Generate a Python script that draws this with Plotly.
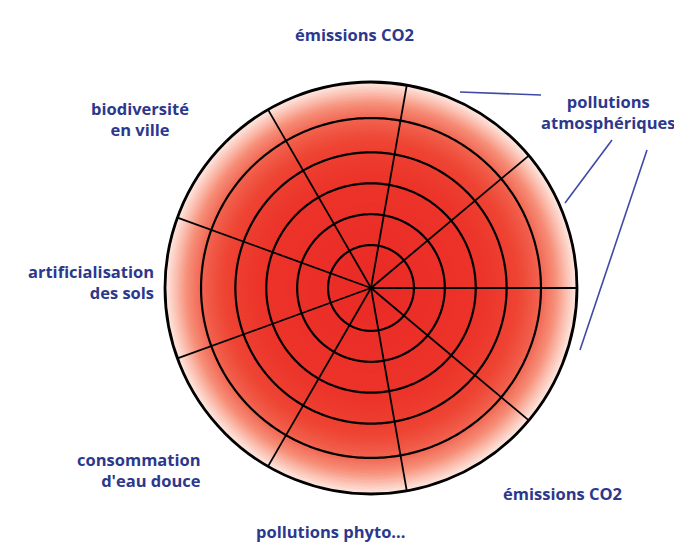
import numpy as np
import plotly.graph_objects as go

# ---- data ----
spoke_angles = [0, 40, 80, 120, 160, 200, 240, 280, 320]      # degrees
ring_radii = [1.25, 2.15, 3.05, 3.95, 4.95]                    # inner rings
outer_radius = 6.0
labels = ["émissions CO2", "biodiversité<br>en ville", "pollutions<br>atmosphériques",
          "artificialisation<br>des sols", "consommation<br>d'eau douce",
          "émissions CO2", "pollutions phyto..."]

W, H = 682, 548
CX, CY, R = 363, 280, 206
TXT = "rgb(44,56,140)"
LINE_BLUE = "rgb(62,74,164)"

fig = go.Figure()

# radial gradient fill: overlapping discs, largest first
stops_r = [0.0, 0.55, 0.72, 0.82, 0.90, 0.96, 1.0]
stops_c = [(234, 42, 38), (236, 52, 42), (238, 68, 52), (241, 96, 76),
           (246, 142, 120), (251, 196, 182), (254, 230, 222)]
n = 90
rs = np.linspace(outer_radius, outer_radius / n, n)
cols = []
for r in rs:
    f = r / outer_radius
    c = [np.interp(f, stops_r, [s[i] for s in stops_c]) for i in range(3)]
    cols.append("rgb(%d,%d,%d)" % tuple(int(round(v)) for v in c))
fig.add_trace(go.Barpolar(r=list(rs), theta=[0] * n, width=[360] * n, base=[0] * n,
                          marker=dict(color=cols, line=dict(width=0)),
                          hoverinfo="skip", showlegend=False))

# rings
th = np.linspace(0, 360, 361)
for rr in ring_radii:
    fig.add_trace(go.Scatterpolar(r=[rr] * len(th), theta=th, mode="lines",
                                  line=dict(color="black", width=2.2),
                                  hoverinfo="skip", showlegend=False))
# spokes
for a in spoke_angles:
    fig.add_trace(go.Scatterpolar(r=[0, outer_radius], theta=[a, a], mode="lines",
                                  line=dict(color="black", width=1.8),
                                  hoverinfo="skip", showlegend=False))

fig.update_layout(
    width=W, height=H, margin=dict(l=0, r=0, t=0, b=0),
    paper_bgcolor="white", plot_bgcolor="white",
    barmode="overlay",
    polar=dict(
        domain=dict(x=[(CX - R) / W, (CX + R) / W], y=[(H - CY - R) / H, (H - CY + R) / H]),
        bgcolor="rgba(0,0,0,0)",
        radialaxis=dict(range=[0, outer_radius], visible=False, showgrid=False),
        angularaxis=dict(showgrid=False, showticklabels=False, ticks="",
                         showline=True, linecolor="black", linewidth=2.8,
                         layer="above traces"),
    ),
)

def px(x, y):
    return x / W, 1 - y / H

pos = [(346, 27, "center"), (132, 111, "center"), (600, 104, "center"),
       (148, 274, "right"), (195, 462, "right"), (554, 485, "center"), (322, 523, "center")]
for lab, (x, y, al) in zip(labels, pos):
    xx, yy = px(x, y)
    fig.add_annotation(x=xx, y=yy, xref="paper", yref="paper", text="<b>%s</b>" % lab,
                       showarrow=False, xanchor=al, yanchor="middle", align=al,
                       font=dict(family="Open Sans", size=16.5, color=TXT))

# leader lines
for (x0, y0, x1, y1) in [(452, 84, 533, 87), (604, 132, 557, 195), (639, 142, 572, 342)]:
    a0, b0 = px(x0, y0)
    a1, b1 = px(x1, y1)
    fig.add_shape(type="line", xref="paper", yref="paper", x0=a0, y0=b0, x1=a1, y1=b1,
                  line=dict(color=LINE_BLUE, width=1.6))

fig.write_html("out.html")
